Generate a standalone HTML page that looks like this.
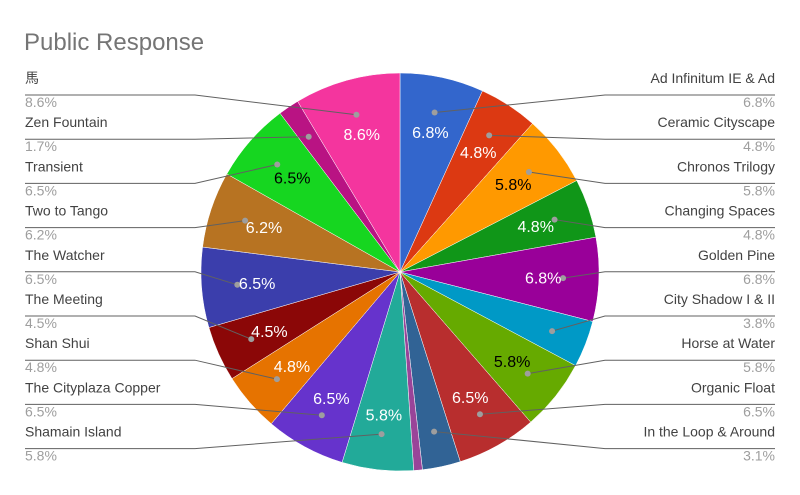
<!DOCTYPE html>
<html><head><meta charset="utf-8"><style>
body{margin:0;background:#fff;}
svg{display:block;font-family:"Liberation Sans","Noto Sans CJK JP",sans-serif;}
</style></head><body>
<svg id="chart" width="800" height="495">
<rect width="800" height="495" fill="#fff"/>
<text x="24" y="50" font-size="24" fill="#757575">Public Response</text>
<g id="slices"></g><g id="leaders"></g><g id="labels"></g>
</svg>
<script>
const categories=["Ad Infinitum IE & Ad","Ceramic Cityscape","Chronos Trilogy","Changing Spaces","Golden Pine","City Shadow I & II","Horse at Water","Organic Float","In the Loop & Around","","Shamain Island","The Cityplaza Copper","Shan Shui","The Meeting","The Watcher","Two to Tango","Transient","Zen Fountain","馬"];
const values=[6.8,4.8,5.8,4.8,6.8,3.8,5.8,6.5,3.1,0.7,5.8,6.5,4.8,4.5,6.5,6.2,6.5,1.7,8.6];
const colors=["#3366cc","#dc3912","#ff9900","#109618","#990099","#0099c6","#66aa00","#b82e2e","#316395","#994499","#22aa99","#6633cc","#e67300","#8b0707","#3b3eac","#b77322","#16d620","#b91383","#f4359e"];
const darkText=[false,false,true,false,false,false,true,false,false,false,false,false,false,false,false,false,true,false,false];
const NS="http://www.w3.org/2000/svg";
const cx=400,cy=272,r=199;
const total=values.reduce((a,b)=>a+b,0);
function pt(a,rr){return [cx+rr*Math.sin(a),cy-rr*Math.cos(a)];}
function mk(tag,attrs,parent){const e=document.createElementNS(NS,tag);for(const k in attrs)e.setAttribute(k,attrs[k]);parent.appendChild(e);return e;}
const gS=document.getElementById('slices'),gL=document.getElementById('leaders'),gT=document.getElementById('labels');
let acc=0;const right=[],left=[];
values.forEach((v,i)=>{
 const a0=acc/total*2*Math.PI;acc+=v;const a1=acc/total*2*Math.PI;
 const p0=pt(a0,r),p1=pt(a1,r);const large=(a1-a0)>Math.PI?1:0;
 const p=mk('path',{d:`M${cx},${cy}L${p0[0]},${p0[1]}A${r},${r} 0 ${large} 1 ${p1[0]},${p1[1]}Z`,fill:colors[i],stroke:'#fff','stroke-width':0.5},gS);
 
 
 const am=(a0+a1)/2;
 if(v>=4.5){const lp=pt(am,r*0.72);
  const t=mk('text',{x:lp[0],y:lp[1]+6,'text-anchor':'middle','font-size':16,fill:darkText[i]?'#000':'#fff'},gT);t.textContent=v.toFixed(1)+'%';
  
  }
 if(categories[i]){ (am<Math.PI?right:left).push({i,am}); }
});
function legendItem(item,idx,isRight){
 const y=83+idx*44.2;const d=pt(item.am,r*0.82);
 const x=isRight?775:25,anchor=isRight?'end':'start';
 const t=mk('text',{x:x,y:y,'text-anchor':anchor,'font-size':14,fill:'#424242'},gT);t.textContent=categories[item.i];
 
 
 const t2=mk('text',{x:x,y:y+24,'text-anchor':anchor,'font-size':14,fill:'#9e9e9e'},gT);t2.textContent=values[item.i].toFixed(1)+'%';
 
 
 const ly=y+12;const kx=isRight?605:195;
 const pl=mk('polyline',{points:`${x},${ly} ${kx},${ly} ${d[0]},${d[1]}`,fill:'none',stroke:'#616161','stroke-width':1},gL);
 
 
 const c=mk('circle',{cx:d[0],cy:d[1],r:3,fill:'#9e9e9e'},gL);
 
 
}
right.forEach((it,k)=>legendItem(it,k,true));
left.reverse().forEach((it,k)=>legendItem(it,k,false));
</script>
</body></html>
